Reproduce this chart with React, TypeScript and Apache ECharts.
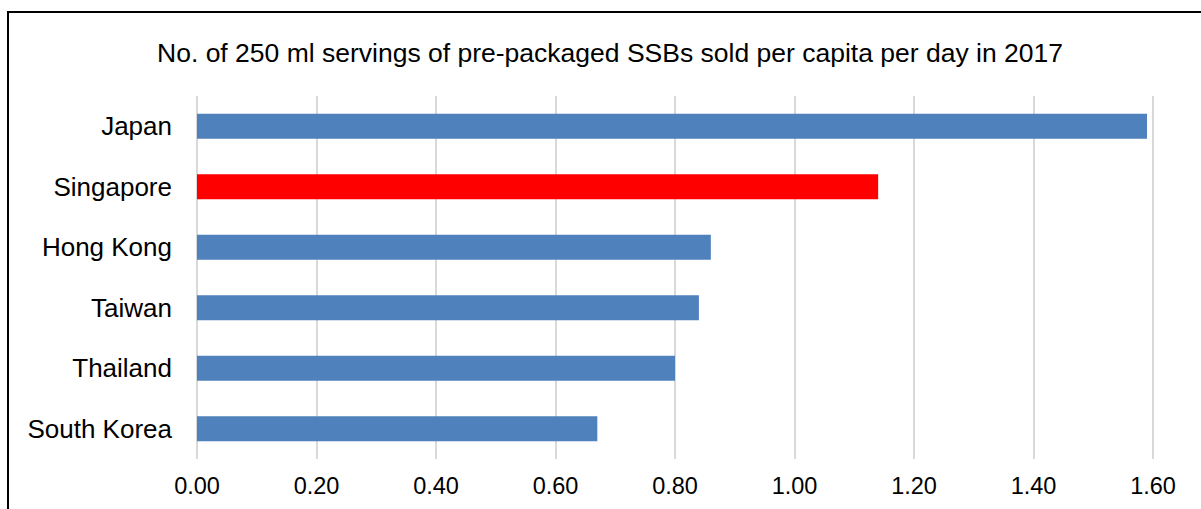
import React, { useEffect, useRef } from "react";
import * as echarts from "echarts";

const titleText = "No. of 250 ml servings of pre-packaged SSBs sold per capita per day in 2017";
const countries = ["Japan", "Singapore", "Hong Kong", "Taiwan", "Thailand", "South Korea"];
const servings = [1.59, 1.14, 0.86, 0.84, 0.8, 0.67];
const highlighted = "Singapore";
const xMin = 0;
const xMax = 1.6;
const xInterval = 0.2;

export default function App() {
  const ref = useRef<HTMLDivElement>(null);
  useEffect(() => {
    if (!ref.current) return;
    const chart = echarts.init(ref.current, undefined, { renderer: "svg" });
    chart.setOption({
      animation: false,
      backgroundColor: "#ffffff",
      textStyle: { fontFamily: "Liberation Sans, Arial, sans-serif" },
      title: {
        text: titleText,
        left: 605,
        top: 48,
        textAlign: "center",
        textVerticalAlign: "middle",
        textStyle: {
          fontFamily: "Liberation Sans, Arial, sans-serif",
          fontSize: 26.5,
          fontWeight: "normal",
          color: "#000000",
        },
      },
      graphic: [
        {
          type: "rect",
          shape: { x: 8, y: 12, width: 3000, height: 3000 },
          style: { fill: "none", stroke: "#000000", lineWidth: 2 },
          silent: true,
          z: 100,
        },
      ],
      grid: { left: 197, right: 48, top: 96, bottom: 50, containLabel: false },
      xAxis: {
        type: "value",
        min: xMin,
        max: xMax,
        interval: xInterval,
        axisLine: { show: false },
        axisTick: { show: false },
        splitLine: { show: true, lineStyle: { color: "#d9d9d9", width: 2 } },
        axisLabel: {
          margin: 15,
          fontSize: 23.5,
          color: "#000000",
          fontFamily: "Liberation Sans, Arial, sans-serif",
          formatter: (v: number) => v.toFixed(2),
        },
      },
      yAxis: {
        type: "category",
        data: countries,
        inverse: true,
        axisLine: { show: false },
        axisTick: { show: false },
        splitLine: { show: false },
        axisLabel: {
          margin: 25,
          fontSize: 26,
          color: "#000000",
          fontFamily: "Liberation Sans, Arial, sans-serif",
        },
      },
      series: [
        {
          type: "bar",
          barWidth: 25,
          data: countries.map((c, i) => ({
            value: servings[i],
            itemStyle: { color: c === highlighted ? "#ff0000" : "#4f81bd" },
          })),
        },
      ],
    });
    return () => chart.dispose();
  }, []);
  return (
    <div
      ref={ref}
      style={{ position: "absolute", left: 0, top: 0, width: 1201, height: 509 }}
    />
  );
}
